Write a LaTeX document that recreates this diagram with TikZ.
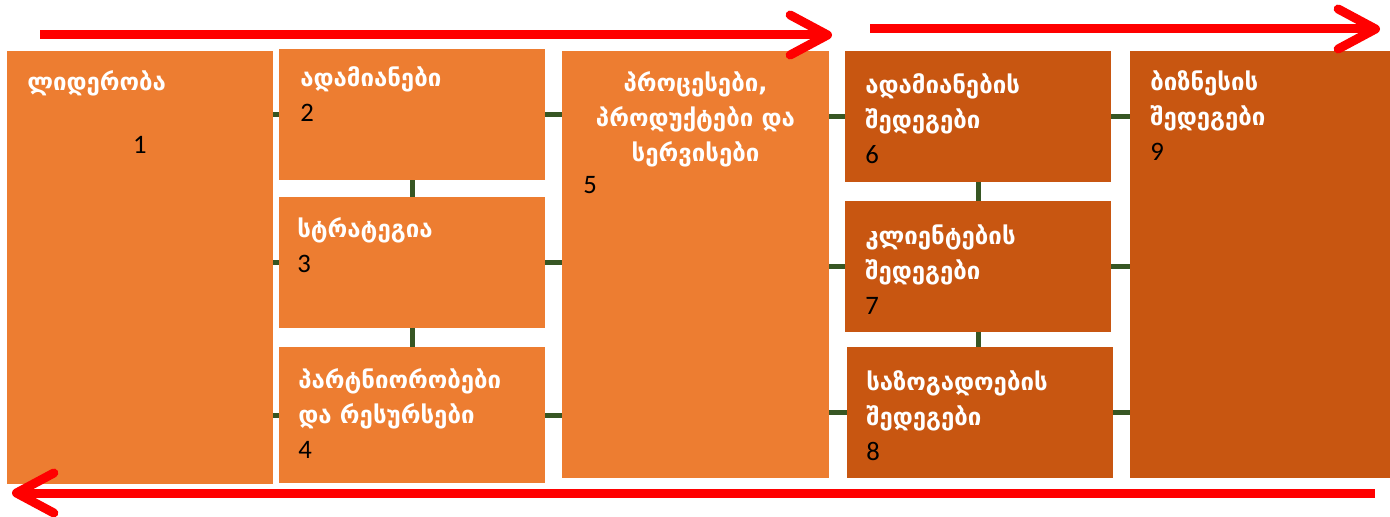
\documentclass[tikz,border=0pt]{standalone}
\usepackage{fontspec}
\usepackage{xcolor}
\usetikzlibrary{arrows.meta,positioning}
\newfontfamily\geofont{DejaVu Sans}
\newfontfamily\numfont{Carlito}
\definecolor{lorange}{HTML}{ED7D31}
\definecolor{dorange}{HTML}{C85611}
\definecolor{linkgreen}{HTML}{375623}
\newcommand\boxnum[1]{{\numfont\mdseries\fontsize{20}{26.25}\selectfont\color{black}#1}}

\begin{document}
\begin{tikzpicture}[x=0.75pt,y=-0.75pt,
  box/.style={fill=lorange,minimum width=199.5pt,inner sep=0pt,outer sep=0pt},
  dbox/.style={box,fill=dorange},
  txt/.style={text=white,align=left,inner sep=0pt,anchor=north west,
    font=\geofont\bfseries\fontsize{18}{26.25}\selectfont,execute at begin node={\strut}},
  num/.style={text=black,inner sep=0pt,anchor=base west,font=\numfont\fontsize{20}{26.25}\selectfont},
  link/.style={draw=linkgreen,line width=3.75pt},
  flow/.style={draw=red,line width=6.75pt,-{Straight Barb[length=28pt,width=30pt,round]}}]
  \useasboundingbox (0,0) rectangle (1390,517);
  % enablers
  \node[box,minimum height=324.75pt] (lead) at (140,267.5) {};
  \node[box,minimum height=98.25pt] (people) at (412,114.5) {};
  \node[box,minimum height=98.25pt] (strat) at (412,262.5) {};
  \node[box,minimum height=102pt] (partn) at (412,415) {};
  \node[box,minimum width=200.25pt,minimum height=320.25pt] (proc) at (695.5,264.5) {};
  % results
  \node[dbox,minimum height=98.25pt] (pres) at (978,116.5) {};
  \node[dbox,minimum height=98.25pt] (cres) at (978,266.5) {};
  \node[dbox,minimum height=98.25pt] (sres) at (980,412.5) {};
  \node[dbox,minimum height=320.25pt] (bres) at (1263,264.5) {};
  % links
  \draw[link] (lead.east |- people.west) -- (people.west);
  \draw[link] (lead.east |- strat.west) -- (strat.west);
  \draw[link] (lead.east |- partn.west) -- (partn.west);
  \draw[link] (people.south) -- (strat.north);
  \draw[link] (strat.south) -- (partn.north);
  \draw[link] (people.east) -- (proc.west |- people.east);
  \draw[link] (strat.east) -- (proc.west |- strat.east);
  \draw[link] (partn.east) -- (proc.west |- partn.east);
  \draw[link] (proc.east |- pres.west) -- (pres.west);
  \draw[link] (proc.east |- cres.west) -- (cres.west);
  \draw[link] (proc.east |- sres.west) -- (sres.west);
  \draw[link] (pres.south) -- (cres.north);
  \draw[link] (cres.south) -- (cres.south |- sres.north);
  \draw[link] (pres.east) -- (bres.west |- pres.east);
  \draw[link] (cres.east) -- (bres.west |- cres.east);
  \draw[link] (sres.east) -- (bres.west |- sres.east);
  % labels (top of strut = first baseline - 24.5)
  \node[txt] (leadT) at (27,66) {ლიდერობა};
  \node[num,anchor=base] (leadN) at (140,153) {1};
  \node[txt] (peopleT) at (300,66) {ადამიანები\\\boxnum{2}};
  \node[txt] (stratT) at (297,217) {სტრატეგია\\\boxnum{3}};
  \node[txt] (partnT) at (298,368) {პარტნიორობები\\და რესურსები\\\boxnum{4}};
  \node[txt,align=center,anchor=north] (procT) at (695.5,71) {პროცესები,\\პროდუქტები და\\სერვისები};
  \node[num] (procN) at (583,193) {5};
  \node[txt] (presT) at (865,73) {ადამიანების\\შედეგები\\\boxnum{6}};
  \node[txt] (cresT) at (865,224) {კლიენტების\\შედეგები\\\boxnum{7}};
  \node[txt] (sresT) at (866,370) {საზოგადოების\\შედეგები\\\boxnum{8}};
  \node[txt] (bresT) at (1150,70) {ბიზნესის\\შედეგები\\\boxnum{9}};
  % flow arrows
  \coordinate (topA) at (40,35);
  \coordinate (topB) at (832,35);
  \coordinate (topC) at (870,29);
  \coordinate (topD) at (1380,29);
  \coordinate (botA) at (1375,493);
  \coordinate (botB) at (12,493);
  \draw[flow] (topA) -- (topB);
  \draw[flow] (topC) -- (topD);
  \draw[flow] (botA) -- (botB);
\end{tikzpicture}
\end{document}
